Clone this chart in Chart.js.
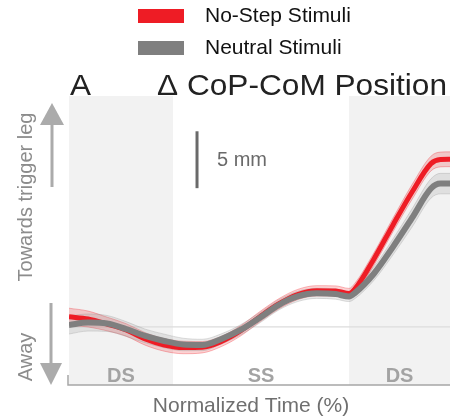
<!DOCTYPE html>
<html>
<head>
<meta charset="utf-8">
<script src="https://cdn.jsdelivr.net/npm/chart.js@4.4.0/dist/chart.umd.min.js"></script>
<style>
  html, body { margin: 0; padding: 0; background: #fff; }
  #wrap { width: 450px; height: 419px; position: relative; }
</style>
</head>
<body>
<div id="wrap"><canvas id="chart"></canvas></div>
<script>
// normalized time (% of step cycle)
const timePct = [0, 5, 10, 15, 20, 25, 30, 35, 40, 45, 50, 55, 60, 65, 70, 73.5, 75, 80, 85, 90, 95, 97.5, 100];

// delta CoP-CoM position (mm), mean and s.e.m.
const noStep = [0.90, 0.70, 0.26, -0.26, -1.05, -1.58, -1.80, -1.78, -1.27, -0.35, 0.88, 2.02, 2.85, 3.18, 3.16, 2.94, 3.33, 5.96, 8.95, 11.84, 14.36, 14.72, 14.74];
const noStepSem = [0.75, 0.7, 0.6, 0.55, 0.55, 0.55, 0.55, 0.5, 0.45, 0.45, 0.45, 0.45, 0.45, 0.45, 0.45, 0.45, 0.5, 0.55, 0.6, 0.65, 0.65, 0.65, 0.65];
const neutral = [0.18, 0.39, 0.31, -0.18, -0.79, -1.23, -1.54, -1.58, -1.05, -0.26, 0.79, 1.93, 2.68, 2.96, 2.89, 2.68, 2.98, 4.68, 7.02, 9.56, 12.17, 12.6, 12.6];
const neutralSem = [0.8, 0.75, 0.7, 0.65, 0.6, 0.6, 0.55, 0.5, 0.45, 0.45, 0.45, 0.45, 0.45, 0.45, 0.45, 0.45, 0.5, 0.6, 0.7, 0.8, 0.85, 0.9, 0.9];

// gait phases
const phaseNames = ["DS", "SS", "DS"];
const phaseEdges = [0, 27.3, 73.5, 100];

// 5 mm scale bar
const scaleBarX = 33.6;
const scaleBarMm = [12.2, 17.2];

const FONT = '"Liberation Sans", Arial, sans-serif';

function pts(xs, ys) {
  return xs.map(function (x, i) { return { x: x, y: ys[i] }; });
}
function shift(ys, sem, sign) {
  return ys.map(function (y, i) { return y + sign * sem[i]; });
}

function fitText(ctx, text, x, y, width) {
  var w = ctx.measureText(text).width;
  ctx.save();
  ctx.translate(x, y);
  ctx.scale(width / w, 1);
  ctx.fillText(text, 0, 0);
  ctx.restore();
}

const backdrop = {
  id: "backdrop",
  beforeDatasetsDraw: function (chart) {
    var ctx = chart.ctx, xs = chart.scales.x, a = chart.chartArea;
    ctx.save();
    ctx.fillStyle = "#f2f2f2";
    for (var i = 0; i < phaseNames.length; i += 2) {
      var x0 = xs.getPixelForValue(phaseEdges[i]);
      var x1 = xs.getPixelForValue(phaseEdges[i + 1]);
      ctx.fillRect(x0, a.top, x1 - x0, a.bottom - a.top);
    }
    ctx.restore();
  },
  afterDraw: function (chart) {
    var ctx = chart.ctx, xs = chart.scales.x, a = chart.chartArea;
    ctx.save();

    // axis line
    ctx.strokeStyle = "#a6a6a6";
    ctx.lineWidth = 1.5;
    ctx.beginPath();
    ctx.moveTo(a.left - 1, a.bottom - 10);
    ctx.lineTo(a.left - 1, a.bottom);
    ctx.lineTo(a.right, a.bottom);
    ctx.stroke();

    // phase labels
    ctx.fillStyle = "#a3a3a3";
    ctx.font = "bold 20px " + FONT;
    ctx.textAlign = "center";
    ctx.textBaseline = "alphabetic";
    for (var i = 0; i < phaseNames.length; i++) {
      var cx = xs.getPixelForValue((phaseEdges[i] + phaseEdges[i + 1]) / 2);
      ctx.fillText(phaseNames[i], cx, a.bottom - 3);
    }

    // x label
    ctx.fillStyle = "#6f6f6f";
    ctx.font = "21px " + FONT;
    ctx.fillText("Normalized Time (%)", 251, 412);

    // scale bar label
    ctx.textAlign = "left";
    ctx.font = "20px " + FONT;
    ctx.fillStyle = "#6a6a6a";
    ctx.fillText("5 mm", 217, 166);

    // title
    ctx.fillStyle = "#222";
    ctx.font = "30px " + FONT;
    fitText(ctx, "A", 70, 95, 21);
    fitText(ctx, "\u0394 CoP-CoM Position", 157, 95, 290);

    // legend
    ctx.font = "21px " + FONT;
    ctx.textBaseline = "middle";
    ctx.fillStyle = "#ee1c25";
    ctx.fillRect(138, 9, 46, 14);
    ctx.fillStyle = "#7f7f7f";
    ctx.fillRect(138, 41, 46, 14);
    ctx.fillStyle = "#111";
    ctx.fillText("No-Step Stimuli", 205, 16);
    ctx.fillText("Neutral Stimuli", 205, 48);

    // direction arrows
    ctx.strokeStyle = "#ababab";
    ctx.fillStyle = "#ababab";
    ctx.lineWidth = 3;
    ctx.beginPath();
    ctx.moveTo(52, 187);
    ctx.lineTo(52, 118);
    ctx.moveTo(51, 303);
    ctx.lineTo(51, 370);
    ctx.stroke();
    ctx.beginPath();
    ctx.moveTo(52, 103);
    ctx.lineTo(64, 125);
    ctx.lineTo(40, 125);
    ctx.closePath();
    ctx.fill();
    ctx.beginPath();
    ctx.moveTo(51, 385);
    ctx.lineTo(62, 363);
    ctx.lineTo(40, 363);
    ctx.closePath();
    ctx.fill();

    // y labels
    ctx.fillStyle = "#8c8c8c";
    ctx.font = "20px " + FONT;
    ctx.textAlign = "center";
    ctx.textBaseline = "middle";
    ctx.save();
    ctx.translate(26, 197);
    ctx.rotate(-Math.PI / 2);
    ctx.fillText("Towards trigger leg", 0, 0);
    ctx.restore();
    ctx.save();
    ctx.translate(26, 357);
    ctx.rotate(-Math.PI / 2);
    ctx.fillText("Away", 0, 0);
    ctx.restore();

    ctx.restore();
  }
};

var line = function (label, data, color, width, order) {
  return {
    label: label, data: data, borderColor: color, borderWidth: width,
    pointRadius: 0, fill: false, cubicInterpolationMode: "monotone", order: order
  };
};
var band = function (data, edge, fill, order, target) {
  return {
    data: data, borderColor: edge, borderWidth: 1, backgroundColor: fill,
    pointRadius: 0, fill: target, cubicInterpolationMode: "monotone", order: order
  };
};

var ctx = document.getElementById("chart").getContext("2d");
var myChart = new Chart(ctx, {
  type: "line",
  data: {
    datasets: [
      line("Neutral Stimuli", pts(timePct, neutral), "#7f7f7f", 6, 0),
      line("No-Step Stimuli", pts(timePct, noStep), "#ee1c25", 5, 1),
      band(pts(timePct, shift(neutral, neutralSem, 1)), "rgba(150,150,150,0.3)", "rgba(150,150,150,0.2)", 2, "+1"),
      band(pts(timePct, shift(neutral, neutralSem, -1)), "rgba(150,150,150,0.3)", "rgba(0,0,0,0)", 2, false),
      band(pts(timePct, shift(noStep, noStepSem, 1)), "rgba(238,28,37,0.3)", "rgba(238,28,37,0.2)", 3, "+1"),
      band(pts(timePct, shift(noStep, noStepSem, -1)), "rgba(238,28,37,0.3)", "rgba(0,0,0,0)", 3, false),
      line("zero", pts([0, 100], [0, 0]), "#dcdcdc", 1.2, 5),
      line("scale", pts([scaleBarX, scaleBarX], scaleBarMm), "#6a6a6a", 3, 0)
    ]
  },
  options: {
    responsive: true,
    maintainAspectRatio: false,
    animation: false,
    layout: { padding: { left: 69, right: 0, top: 96, bottom: 34 } },
    plugins: { legend: { display: false }, tooltip: { enabled: false } },
    scales: {
      x: { type: "linear", min: 0, max: 100, display: false },
      y: { min: -5.1, max: 20.3, display: false }
    }
  },
  plugins: [backdrop]
});
</script>
</body>
</html>
